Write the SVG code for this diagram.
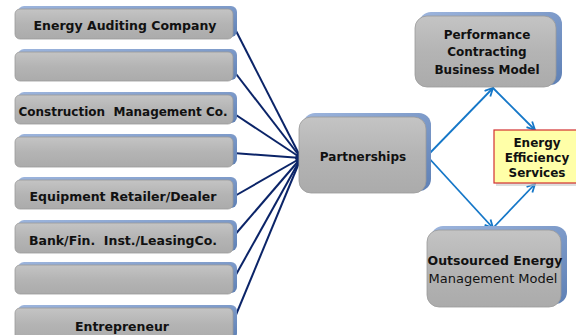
<svg xmlns="http://www.w3.org/2000/svg" width="576" height="335" viewBox="0 0 576 335">
<defs>
<linearGradient id="face" x1="0" y1="0" x2="0" y2="1">
<stop offset="0" stop-color="#C4C4C4"/>
<stop offset="0.5" stop-color="#B4B4B4"/>
<stop offset="1" stop-color="#ABABAB"/>
</linearGradient>
<linearGradient id="edge" x1="0" y1="0" x2="1" y2="1">
<stop offset="0" stop-color="#9DB5DD"/>
<stop offset="1" stop-color="#5E80B5"/>
</linearGradient>
<marker id="navy" viewBox="0 0 10 10" refX="9" refY="5" markerWidth="6" markerHeight="6" orient="auto" markerUnits="userSpaceOnUse">
<path d="M0,0 L10,5 L0,10 Z" fill="#0B2468"/>
</marker>
<marker id="blue" viewBox="0 0 10 10" refX="9" refY="5" markerWidth="10" markerHeight="10" orient="auto" markerUnits="userSpaceOnUse">
<path d="M1,1 L9,5 L1,9" fill="none" stroke="#1577C8" stroke-width="1.8"/>
</marker>
</defs>
<style>
.back{fill:url(#edge);}
.face{fill:url(#face);stroke:#9A9A9A;stroke-width:0.8;}
.t{font-family:"DejaVu Sans",Verdana,sans-serif;font-size:12px;font-weight:bold;fill:#111;text-anchor:middle;white-space:pre;}
.tl{font-size:12.5px;}
.tn{font-family:"DejaVu Sans",Verdana,sans-serif;font-size:13px;fill:#111;text-anchor:middle;}
.nv{stroke:#0B2468;stroke-width:2;fill:none;}
.bl{stroke:#1577C8;stroke-width:1.8;fill:none;}
</style>
<g id="connectors">
<line class="nv" x1="233" y1="25" x2="301" y2="158" marker-end="url(#navy)"/>
<line class="nv" x1="233" y1="70" x2="301" y2="158" marker-end="url(#navy)"/>
<line class="nv" x1="233" y1="113" x2="301" y2="158" marker-end="url(#navy)"/>
<line class="nv" x1="233" y1="153" x2="301" y2="158" marker-end="url(#navy)"/>
<line class="nv" x1="233" y1="197" x2="301" y2="158" marker-end="url(#navy)"/>
<line class="nv" x1="233" y1="237" x2="301" y2="158" marker-end="url(#navy)"/>
<line class="nv" x1="233" y1="280" x2="301" y2="158" marker-end="url(#navy)"/>
<line class="nv" x1="233" y1="322" x2="301" y2="158" marker-end="url(#navy)"/>
<line class="bl" x1="427" y1="156" x2="493" y2="88" marker-end="url(#blue)"/>
<line class="bl" x1="493" y1="88" x2="535" y2="130" marker-end="url(#blue)"/>
<line class="bl" x1="427" y1="156" x2="493" y2="228" marker-end="url(#blue)"/>
<line class="bl" x1="493" y1="228" x2="535" y2="184" marker-end="url(#blue)"/>
</g>
<g id="n1"><rect class="back" x="18" y="6" width="219" height="31" rx="6"/><rect class="face" x="15" y="9" width="218" height="30" rx="5"/><text class="t tl" x="125" y="30">Energy Auditing Company</text></g>
<g id="n2"><rect class="back" x="18" y="49" width="219" height="31" rx="6"/><rect class="face" x="15" y="52" width="218" height="29" rx="5"/></g>
<g id="n3"><rect class="back" x="18" y="92" width="219" height="31" rx="6"/><rect class="face" x="15" y="95" width="218" height="29" rx="5"/><text class="t" x="123" y="116" xml:space="preserve">Construction  Management Co.</text></g>
<g id="n4"><rect class="back" x="18" y="134" width="219" height="31" rx="6"/><rect class="face" x="15" y="137" width="218" height="30" rx="5"/></g>
<g id="n5"><rect class="back" x="18" y="177" width="219" height="31" rx="6"/><rect class="face" x="15" y="180" width="218" height="29" rx="5"/><text class="t tl" x="123" y="201">Equipment Retailer/Dealer</text></g>
<g id="n6"><rect class="back" x="18" y="220" width="219" height="31" rx="6"/><rect class="face" x="15" y="223" width="218" height="30" rx="5"/><text class="t tl" x="123" y="245" xml:space="preserve">Bank/Fin.  Inst./LeasingCo.</text></g>
<g id="n7"><rect class="back" x="18" y="262" width="219" height="31" rx="6"/><rect class="face" x="15" y="265" width="218" height="29" rx="5"/></g>
<g id="n8"><rect class="back" x="18" y="305" width="219" height="34" rx="6"/><rect class="face" x="15" y="308" width="218" height="32" rx="5"/><text class="t tl" x="122" y="331">Entrepreneur</text></g>
<g id="partnerships"><rect class="back" x="303" y="113" width="128" height="78" rx="12"/><rect class="face" x="299" y="117" width="127" height="76" rx="12"/><text class="t" x="363" y="161">Partnerships</text></g>
<g id="performance"><rect class="back" x="419" y="12" width="143" height="73" rx="12"/><rect class="face" x="415" y="16" width="141" height="71" rx="12"/><text class="t" x="487" y="39">Performance</text><text class="t" x="487" y="56">Contracting</text><text class="t" x="487" y="74">Business Model</text></g>
<g id="outsourced"><rect class="back" x="431" y="226" width="136" height="78" rx="12"/><rect class="face" x="427" y="230" width="134" height="77" rx="12"/><text class="t tl" x="495" y="265">Outsourced Energy</text><text class="tn" x="493" y="283">Management Model</text></g>
<g id="ees"><rect x="496" y="132" width="84" height="54" fill="#C8C8C8" opacity="0.6"/><rect x="494" y="130" width="84" height="53" fill="#FFFFA8" stroke="#D23030" stroke-width="1.2"/><text class="t" x="537" y="147">Energy</text><text class="t" x="537" y="162">Efficiency</text><text class="t" x="537" y="177">Services</text></g>
</svg>
